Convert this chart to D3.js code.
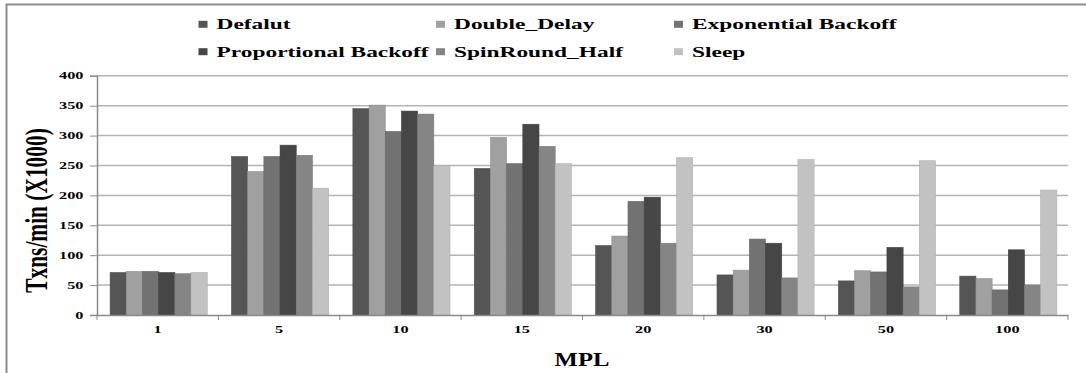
<!DOCTYPE html>
<html><head><meta charset="utf-8">
<script src="https://cdn.jsdelivr.net/npm/d3@7"></script>
<style>body{margin:0;background:#fff}svg{display:block}</style>
</head><body>
<svg id="c" width="1086" height="373"></svg>
<script>
const categories = ["1","5","10","15","20","30","50","100"];
const seriesNames = ["Defalut","Double_Delay","Exponential Backoff","Proportional Backoff","SpinRound_Half","Sleep"];
const defalut     = [71, 265, 345, 245, 116, 67, 57, 65];
const doubleDelay = [73, 240, 351, 297, 132, 75, 74, 61];
const expBackoff  = [73, 265, 307, 253, 190, 127, 72, 42];
const propBackoff = [71, 284, 341, 319, 197, 120, 113, 109];
const spinHalf    = [69, 267, 336, 282, 120, 62, 47, 50];
const sleep       = [71, 212, 249, 253, 263, 260, 258, 209];
const yTicks = [0,50,100,150,200,250,300,350,400];
const colors = ["#555555","#a0a0a0","#727272","#464646","#858585","#c2c2c2"];

const series = [defalut, doubleDelay, expBackoff, propBackoff, spinHalf, sleep];
const svg = d3.select("#c");
const serif = "'Liberation Serif','Times New Roman',serif";
const SX = 1.5; // horizontal stretch of the text in the reference

// outer frame
svg.append("path").attr("d","M6.5,373 V4.5 H1086").attr("fill","none").attr("stroke","#8a8a8a").attr("stroke-width",2);

const m = {l:97, r:1068, t:75.8, b:315};
const x = d3.scaleBand().domain(categories).range([m.l, m.r]).paddingInner(0).paddingOuter(0);
const y = d3.scaleLinear().domain([0,400]).range([m.b, m.t]);
const bw = x.bandwidth()/7.5;

// gridlines
svg.append("g").selectAll("line").data(yTicks.filter(d=>d>0)).join("line")
  .attr("x1", m.l).attr("x2", m.r).attr("y1", d=>y(d)).attr("y2", d=>y(d))
  .attr("stroke","#b4b4b4").attr("stroke-width",1.5);

// bars
const g = svg.append("g");
series.forEach((vals, si) => {
  g.selectAll(null).data(vals).join("rect")
    .attr("x", (d,i) => x(categories[i]) + bw*0.75 + si*bw + 1)
    .attr("y", d => y(d))
    .attr("width", bw)
    .attr("height", d => y(0) - y(d))
    .attr("fill", colors[si])
    .attr("stroke", d3.color(colors[si]).darker(0.3))
    .attr("stroke-width", 0.6);
});

// y axis
const yAxis = d3.axisLeft(y).tickValues(yTicks).tickSize(7).tickFormat("");
const ya = svg.append("g").attr("transform",`translate(${m.l},0)`).call(yAxis);
ya.select(".domain").attr("stroke","#8a8a8a").attr("stroke-width",1.5);
ya.selectAll(".tick line").attr("stroke","#8a8a8a");
svg.append("g").selectAll("text").data(yTicks).join("text")
  .attr("transform", d => `translate(83.5,${y(d)}) scale(1.55,1)`)
  .attr("text-anchor","end").attr("dy","0.34em")
  .attr("font-family",serif).attr("font-weight","bold").attr("font-size",10.5)
  .text(d => d);

// x axis
const xa = svg.append("g").attr("transform",`translate(0,${m.b})`)
  .call(d3.axisBottom(x).tickSize(0).tickFormat(""));
xa.select(".domain").attr("stroke","#8a8a8a").attr("stroke-width",1.5);
xa.append("g").selectAll("line").data(categories.map(c=>x(c)).concat([m.r])).join("line")
  .attr("x1",d=>d).attr("x2",d=>d).attr("y1",0).attr("y2",5).attr("stroke","#8a8a8a");
svg.append("g").selectAll("text").data(categories).join("text")
  .attr("transform", d => `translate(${x(d)+x.bandwidth()/2},333) scale(1.55,1)`)
  .attr("text-anchor","middle")
  .attr("font-family",serif).attr("font-weight","bold").attr("font-size",10.5)
  .text(d => d);

// axis titles
svg.append("text").attr("transform","translate(47,210.5) scale(1.5,1) rotate(-90)")
  .attr("text-anchor","middle")
  .attr("font-family",serif).attr("font-weight","bold").attr("font-size",21.4)
  .text("Txns/min (X1000)");
svg.append("text").attr("transform","translate(582,366) scale(1.37,1)")
  .attr("text-anchor","middle")
  .attr("font-family",serif).attr("font-weight","bold").attr("font-size",18)
  .text("MPL");

// legend
const legX = [198.5, 436, 674];
const legY = [29.3, 56.7];
seriesNames.forEach((n,i)=>{
  const lx = legX[i%3], ly = legY[Math.floor(i/3)];
  svg.append("rect").attr("x",lx).attr("y",ly-8.5).attr("width",9).attr("height",7).attr("fill",colors[i]);
  svg.append("text").attr("transform",`translate(${lx+18},${ly}) scale(${SX},1)`)
    .attr("font-family",serif).attr("font-weight","bold").attr("font-size",15.6).text(n);
});
</script>
</body></html>
